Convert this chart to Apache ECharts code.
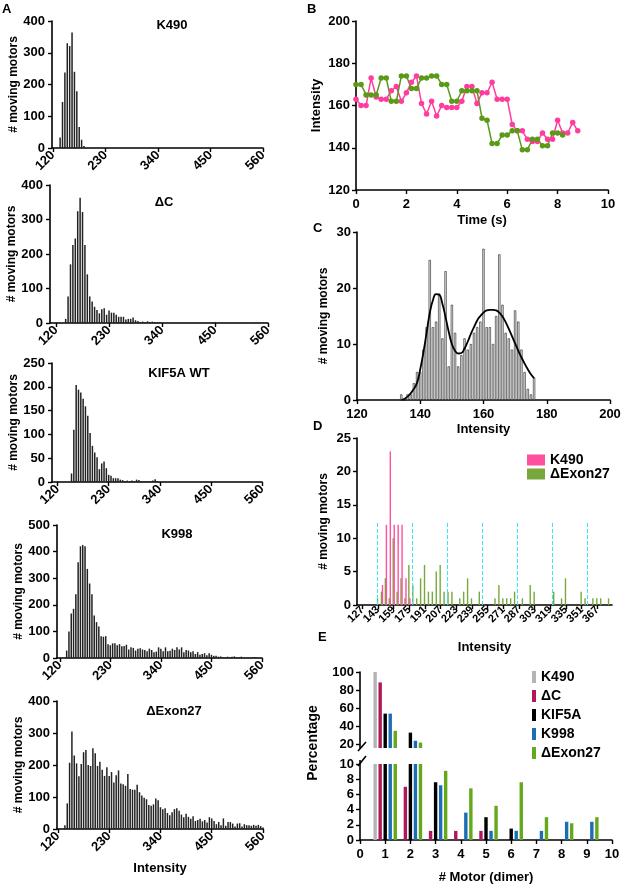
<!DOCTYPE html>
<html><head><meta charset="utf-8">
<script src="https://cdn.jsdelivr.net/npm/echarts@6/dist/echarts.min.js"></script>
<style>html,body{margin:0;padding:0;background:#fff}#c{width:621px;height:887px}</style>
</head><body><div id="c"></div>
<script>
// ---------- Panel A data (histogram bins, intensity) ----------
const histBins = [120,125,130,135,140,145,150,155,160,165,170,175,180,185,190,195,200,205,210,215,220,225,230,235,240,245,250,255,260,265,270,275,280,285,290,295,300,305,310,315,320,325,330,335,340,345,350,355,360,365,370,375,380,385,390,395,400,405,410,415,420,425,430,435,440,445,450,455,460,465,470,475,480,485,490,495,500,505,510,515,520,525,530,535,540,545,550,555,560];
const histTicks = [120,230,340,450,560];
const k490Counts = [0,0,0,33,145,238,330,321,364,240, 179,66,26,6];
const dcCounts = [0,0,0,0,12,77,170,226,245,324, 363,322,226,141,77,62,47,38,28,40, 43,24,36,30,30,24,18,18,18,10, 12,12,16,8,6,3,4,2,5,3, 4,3,2,2,1,0,1,1,0,1, 0,1,0,0,1,0,1,0,0,1, 0,0,1,0,0,1,2,0,0,1, 0,0,1,0,0,0,1,0,0,1, 0,0,1,1,0,1,1,1,0];
const kif5aCounts = [0,0,0,0,0,0,18,110,204,194, 188,175,159,139,103,76,62,52,27,39, 43,29,15,13,8,8,8,5,4,2, 3,2,3,2,5,4,2,1,2,1, 2,3,6,2];
const k998Counts = [0,0,0,28,100,167,185,240,360,420, 425,420,335,280,240,160,135,118,82,80, 82,52,48,55,55,48,52,44,45,50, 32,40,38,28,35,37,32,30,25,35, 30,22,24,40,35,25,40,25,27,35, 30,40,32,40,22,30,28,22,25,15, 22,12,15,18,10,18,12,8,8,5, 6,4,3,5,3,5,6,2,4,5, 2,1,2,1,3,3,2,0,0];
const exon27Counts = [0,0,0,12,80,207,305,230,205,165, 203,240,247,200,197,252,237,197,210,185, 166,193,166,178,145,168,183,142,140,135, 172,125,123,123,138,115,105,98,93,75, 73,77,95,90,68,62,65,50,43,52, 62,65,57,45,37,48,38,32,40,25, 28,32,24,28,20,37,33,25,15,22, 12,33,10,22,22,17,8,17,18,8, 15,12,12,10,13,10,13,9,5];

// ---------- Panel B data ----------
const timeB = [0,0.2,0.4,0.6,0.8,1.0,1.2,1.4,1.6,1.8,2.0,2.2,2.4,2.6,2.8,3.0,3.2,3.4,3.6,3.8,4.0,4.2,4.4,4.6,4.8,5.0,5.2,5.4,5.6,5.8,6.0,6.2,6.4,6.6,6.8,7.0,7.2,7.4,7.6,7.8,8.0,8.2,8.4,8.6,8.8];
const pinkB = [163,160,160,173,164,163,163,167,169,162,166,171,174,161,156,162,155,160,159,159,159,162,169,169,161,166,166,171,163,163,163,151,148,148,144,143,143,147,144,144,153,147,147,152,148];
const greenB = [170,170,165,165,165,173,173,162,162,174,174,168,168,173,173,174,174,170,170,162,162,167,167,167,167,154,153,142,142,146,146,148,148,139,139,144,144,141,141,147,147,146];

// ---------- Panel C data ----------
const cBins = [134,135,136,137,138,139,140,141,142,143,144,145,146,147,148,149,150,151,152,153,154,155,156,157,158,159,160,161,162,163,164,165,166,167,168,169,170,171,172,173,174,175,176];
const cCounts = [1,0,1,1,3,5,5,9,13,25,13,14,19,11,23,6,17,12,6,8,11,9,10,12,13,14,27,13,13,10,15,26,17,12,11,9,16,14,9,5,2,1,4];
const cFitX = [134,136,138,139,140,141,142,143,144,145,146,147,148,149,150,151,152,153,154,155,156,157,158,159,160,161,162,163,164,165,166,167,168,169,170,171,172,173,174,175,176];
const cFitY = [0,0.6,2,3.1,5.5,8.5,12,15.5,17.8,18.9,18.8,17.2,14.8,12.2,10,8.8,8.3,8.4,9.2,10.4,11.8,13,14.2,15,15.6,16,16.1,16.1,16,15.6,14.9,13.9,12.7,11.4,10.1,8.8,7.6,6.5,5.5,4.6,3.9];

// ---------- Panel D data ----------
const dTicks = [127,143,159,175,191,207,223,239,255,271,287,303,319,335,351,367];
const dK490Int = [147,151,155,159,163,167,171,175];
const dK490Cnt = [3,12,23,12,12,12,4,1];
const dExonInt = [143,147,151,155,159,163,167,171,175,179,183,187,191,195,199,203,207,211,215,219,227,231,235,239,247,263,267,271,275,279,283,291,299,303,323,331,335,351,355,363,367,371,379];
const dExonCnt = [1,2,4,1,10,2,4,1,6,3,1,4,6,2,2,5,6,2,2,2,1,2,4,1,2,1,3,1,1,1,2,1,3,2,2,1,4,2,1,1,1,1,1];
const dGuides = [142.6,178.2,213.8,249.8,285.6,322,357.6];
const dGuideHeight = 12.3;

// ---------- Panel E data ----------
const eCats = ['0','1','2','3','4','5','6','7','8','9','10'];
const eK490  = [null,100,null,null,null,null,null,null,null,null,null];
const eDeltaC= [null,88.5,7,1.2,1.2,1.2,null,null,null,null,null];
const eKIF5A = [null,54,33,7.6,null,3.0,1.5,null,null,null,null];
const eK998  = [null,54,24,7.2,3.6,1.2,1.2,1.2,2.4,2.4,null];
const eExon27= [null,35,22,9.1,6.8,4.5,7.6,3.0,2.2,3.0,null];
const eUpperTicks = [20,40,60,80,100];

// ---------- helpers ----------
const FONT = '"Liberation Sans", Arial, sans-serif';
const T = (s) => ({fontFamily: FONT, fontWeight: 'bold', fontSize: s, color: '#000'});
function axis(o) {
  const a = {
    type: o.type || 'value', gridIndex: o.g,
    axisLine: {show: o.line !== false, onZero: false, lineStyle: {color: '#000', width: 1.6}},
    axisTick: {show: o.line !== false, length: 4, inside: false, lineStyle: {color: '#000', width: 1.4}},
    axisLabel: Object.assign(T(o.ls || 13), {show: o.label !== false, margin: o.margin == null ? 6 : o.margin, rotate: o.rot || 0}),
    splitLine: {show: false}
  };
  if (o.min != null) a.min = o.min;
  if (o.max != null) a.max = o.max;
  if (o.interval != null) a.interval = o.interval;
  if (o.custom) { a.axisTick.customValues = o.custom; a.axisLabel.customValues = o.custom; }
  if (o.data) { a.data = o.data; a.boundaryGap = false; a.axisLabel.interval = 0; a.axisTick.interval = 0; }
  if (o.name) { a.name = o.name; a.nameLocation = 'middle'; a.nameGap = o.ng; a.nameTextStyle = T(o.ns || 13); if (o.nr) a.nameRotate = o.nr; }
  if (o.show === false) a.show = false;
  return a;
}
const grids = [], xAxes = [], yAxes = [], series = [], graphics = [];
function grid(l, t, w, h) { grids.push({left: l, top: t, width: w, height: h, containLabel: false, outerBoundsMode: 'none'}); return grids.length - 1; }

// ---------- Panel A ----------
const aPanels = [
  {title: 'K490', counts: k490Counts, box: [52, 21, 211, 127], xmin: 118, ymax: 400, step: 100, t: [172, 25]},
  {title: 'ΔC', counts: dcCounts, box: [50, 185, 218, 138], xmin: 107.5, ymax: 400, step: 100, t: [164, 202]},
  {title: 'KIF5A WT', counts: kif5aCounts, box: [52, 363, 210, 119], xmin: 108, ymax: 250, step: 50, t: [179, 373]},
  {title: 'K998', counts: k998Counts, box: [57, 525, 205, 133], xmin: 114, ymax: 500, step: 100, t: [177, 534]},
  {title: 'ΔExon27', counts: exon27Counts, box: [57, 701, 206, 128], xmin: 118, ymax: 400, step: 100, t: [174, 711], xname: 'Intensity'}
];
aPanels.forEach(p => {
  const g = grid(p.box[0], p.box[1], p.box[2], p.box[3]);
  const xo = {g, min: p.xmin, max: 560, custom: histTicks, rot: 45, margin: 5};
  if (p.xname) { xo.name = p.xname; xo.ng = 33; xo.ns = 13; }
  xAxes.push(axis(xo));
  yAxes.push(axis({g, min: 0, max: p.ymax, interval: p.step, margin: 7, name: '# moving motors', ng: 31, ns: 12, nr: 90}));
  series.push({type: 'bar', xAxisIndex: g, yAxisIndex: g, barWidth: 1.5,
    itemStyle: {color: '#222'},
    data: histBins.map((b, i) => [b, p.counts[i] || 0])});
  graphics.push({type: 'text', x: p.t[0], y: p.t[1], style: {text: p.title, font: 'bold 13px ' + FONT, fill: '#000', align: 'center', verticalAlign: 'middle'}});
});

// ---------- Panel B ----------
const gB = grid(356, 21, 252, 169);
xAxes.push(axis({g: gB, min: 0, max: 10, interval: 2, margin: 8, name: 'Time (s)', ng: 24}));
yAxes.push(axis({g: gB, min: 120, max: 200, interval: 20, name: 'Intensity', ng: 33, nr: 90}));
series.push({type: 'line', xAxisIndex: gB, yAxisIndex: gB, symbol: 'circle', symbolSize: 5.5,
  itemStyle: {color: '#ff3d9e'}, lineStyle: {color: '#ff3d9e', width: 1.5},
  data: pinkB.map((v, i) => [timeB[i], v])});
series.push({type: 'line', xAxisIndex: gB, yAxisIndex: gB, symbol: 'circle', symbolSize: 5.5,
  itemStyle: {color: '#5a9a16'}, lineStyle: {color: '#5a9a16', width: 1.5},
  data: greenB.map((v, i) => [timeB[i], v])});

// ---------- Panel C ----------
const gC = grid(357, 232, 253, 168);
xAxes.push(axis({g: gC, min: 120, max: 200, interval: 20, margin: 8, name: 'Intensity', ng: 23}));
yAxes.push(axis({g: gC, min: 0, max: 30, interval: 10, name: '# moving motors', ng: 27, ns: 12, nr: 90}));
series.push({type: 'bar', xAxisIndex: gC, yAxisIndex: gC, barWidth: 2.2,
  itemStyle: {color: '#e2e2e2', borderColor: '#111', borderWidth: 0.55},
  data: cCounts.map((v, i) => [cBins[i], v])});
series.push({type: 'line', xAxisIndex: gC, yAxisIndex: gC, smooth: true, showSymbol: false, z: 5,
  lineStyle: {color: '#000', width: 1.8}, data: cFitY.map((v, i) => [cFitX[i], v])});

// ---------- Panel D ----------
const gD = grid(357, 438, 255, 167);
xAxes.push(axis({g: gD, min: 121.5, max: 382, custom: dTicks, rot: 45, ls: 11, margin: 3, name: 'Intensity', ng: 36}));
yAxes.push(axis({g: gD, min: 0, max: 25, interval: 5, name: '# moving motors', ng: 27, ns: 12, nr: 90}));
series.push({type: 'bar', name: 'ΔExon27', xAxisIndex: gD, yAxisIndex: gD, barWidth: 1.4, barGap: '-25%',
  itemStyle: {color: '#78a83c'}, data: dExonCnt.map((v, i) => [dExonInt[i], v]),
  markLine: {silent: true, symbol: 'none', label: {show: false},
    lineStyle: {color: '#33e6f2', type: 'dashed', width: 1},
    data: dGuides.map(x => [{coord: [x, 0]}, {coord: [x, dGuideHeight]}])}});
series.push({type: 'bar', name: 'K490', xAxisIndex: gD, yAxisIndex: gD, barWidth: 1.4, barGap: '-25%',
  itemStyle: {color: '#ff4f9e'}, data: dK490Cnt.map((v, i) => [dK490Int[i], v])});

// ---------- Panel E ----------
const gEu = grid(360, 672, 252, 76);
xAxes.push(axis({g: gEu, type: 'category', data: eCats, show: false}));
yAxes.push(axis({g: gEu, min: 16, max: 100, custom: eUpperTicks}));
const gEl = grid(360, 764, 252, 76);
xAxes.push(axis({g: gEl, type: 'category', data: eCats, margin: 8, name: '# Motor (dimer)', ng: 31}));
yAxes.push(axis({g: gEl, min: 0, max: 10, interval: 2}));
const eSeries = [
  ['eK490', 'K490', eK490, '#b4b4b4'],
  ['eDC', 'ΔC', eDeltaC, '#b0185c'],
  ['eKIF5A', 'KIF5A', eKIF5A, '#000000'],
  ['eK998', 'K998', eK998, '#1c6db4'],
  ['eExon', 'ΔExon27', eExon27, '#64a81c']
];
const eLabel = {};
eSeries.forEach(s => { eLabel[s[0]] = s[1]; });
[gEu, gEl].forEach(g => {
  eSeries.forEach(s => {
    series.push({type: 'bar', name: s[0], xAxisIndex: g, yAxisIndex: g, barWidth: 3.4, barGap: '48%',
      itemStyle: {color: s[3]}, data: s[2]});
  });
});

// ---------- text decorations ----------
[['A', 2, 3], ['B', 307, 3], ['C', 313, 222], ['D', 313, 420], ['E', 318, 631]].forEach(l => {
  graphics.push({type: 'text', x: l[1], y: l[2], style: {text: l[0], font: 'bold 13px ' + FONT, fill: '#000', align: 'left', verticalAlign: 'top'}});
});
graphics.push({type: 'text', x: 313, y: 743, rotation: Math.PI / 2,
  style: {text: 'Percentage', font: 'bold 14px ' + FONT, fill: '#000', align: 'center', verticalAlign: 'middle'}});
graphics.push({type: 'line', shape: {x1: 358, y1: 751, x2: 366, y2: 742}, style: {stroke: '#000', lineWidth: 1.6}});
graphics.push({type: 'line', shape: {x1: 360, y1: 764, x2: 360, y2: 760}, style: {stroke: '#000', lineWidth: 1.6}});
graphics.push({type: 'line', shape: {x1: 358, y1: 766, x2: 366, y2: 756}, style: {stroke: '#000', lineWidth: 1.6}});

const chart = echarts.init(document.getElementById('c'), null, {renderer: 'canvas', width: 621, height: 887});
chart.setOption({
  animation: false,
  backgroundColor: '#fff',
  grid: grids, xAxis: xAxes, yAxis: yAxes, series: series,
  legend: [
    {data: ['K490', 'ΔExon27'], orient: 'vertical', left: 527, top: 453, icon: 'rect',
     itemWidth: 18, itemHeight: 11, itemGap: 0, padding: 0, textStyle: T(14), selectedMode: false},
    {data: eSeries.map(s => s[0]), orient: 'vertical', left: 532, top: 670, icon: 'rect',
     itemWidth: 4, itemHeight: 12, itemGap: 5, padding: 0, textStyle: T(14), selectedMode: false,
     formatter: n => eLabel[n]}
  ],
  graphic: graphics
});
</script></body></html>
